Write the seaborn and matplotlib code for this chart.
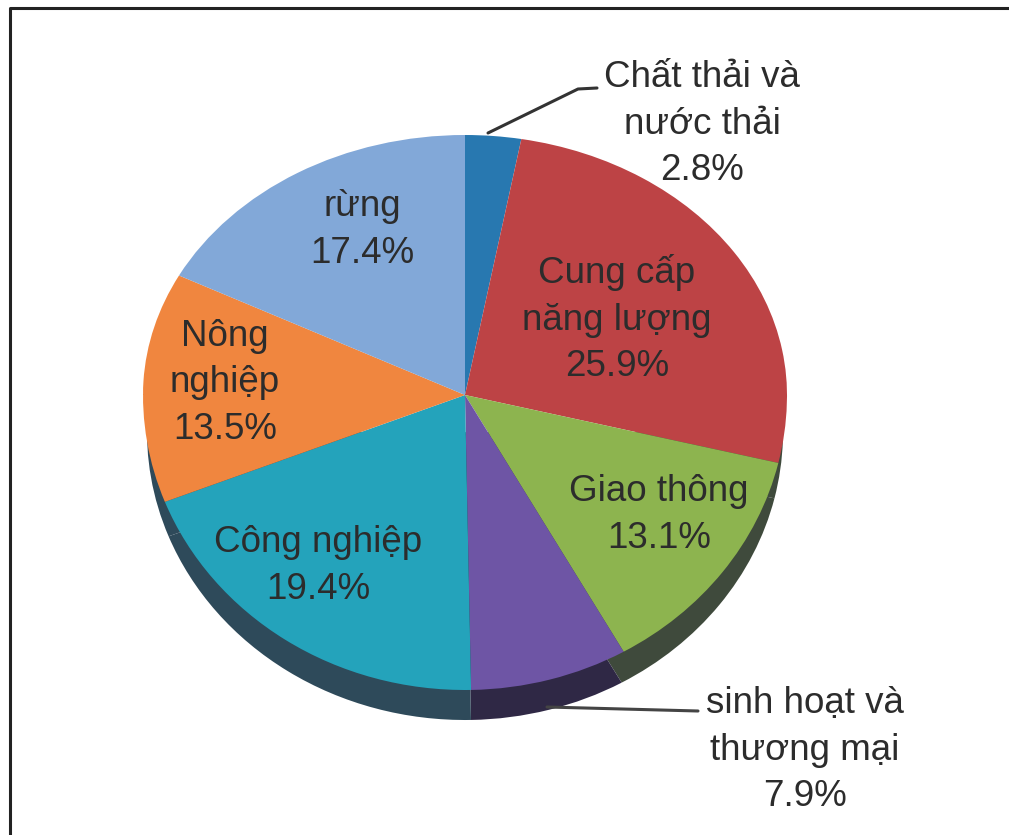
import matplotlib
matplotlib.use("Agg")
import matplotlib.pyplot as plt
from matplotlib.patches import Rectangle
from matplotlib.transforms import Affine2D
import seaborn as sns

# Emission shares by sector, clockwise from twelve o'clock
sectors = ["Chất thải và\nnước thải", "Cung cấp\nnăng lượng", "Giao thông",
           "sinh hoạt và\nthương mại", "Công nghiệp", "Nông\nnghiệp", "rừng"]
shares = [2.8, 25.9, 13.1, 7.9, 19.4, 13.5, 17.4]
top_colors = ["#2878b0", "#bd4345", "#8db44f", "#6e55a5", "#24a3bb", "#f0863f", "#82a8d8"]
side_colors = ["#1d4a66", "#3f4a3c", "#3f4a3c", "#2f2845", "#2e4a5a", "#2e4a5a", "#445570"]

sns.set_theme(style="white")
plt.rcParams["font.family"] = ["Liberation Sans", "DejaVu Sans"]

W, H = 1009, 835
CX, CY = 465, 395  # pixel position of the slices' common apex
RADIUS = 322
TEXT_COLOR = "#2c2c2c"

fig = plt.figure(figsize=(W / 100, H / 100), dpi=100, facecolor="white")
ax = fig.add_axes([0, 0, 1, 1])


def px(x, y):
    """Pixel position to data coordinates centred on the apex."""
    return x - CX, CY - y


def draw_pie(colors, rx, ry, dy, clip_low, clip_high, zorder):
    """One elliptical pie, clipped to a horizontal band."""
    wedges, _ = ax.pie(shares, colors=sns.color_palette(colors), startangle=90,
                       counterclock=False, radius=RADIUS, center=(0, 0), frame=True)
    squash = Affine2D().scale(rx / RADIUS, ry / RADIUS).translate(0, dy) + ax.transData
    band = Rectangle((-W, clip_low), 2 * W, clip_high - clip_low, transform=ax.transData)
    for w in wedges:
        w.set_transform(squash)
        w.set_clip_on(True)
        w.set_clip_path(band)
        w.set_linewidth(0)
        w.set_zorder(zorder)


# Dark side wall first, then the lower and upper halves of the top face
draw_pie(side_colors, 318, 288, -37, -H, -37, 1)
draw_pie(top_colors, RADIUS, 295, 0, -H, 0.5, 2)
draw_pie(top_colors, RADIUS, 260, 0, -0.5, H, 2)

ax.set_aspect("auto")
ax.set_xlim(-CX, W - CX)
ax.set_ylim(CY - H, CY)
ax.axis("off")

label_centers = [(702, 124), (617, 319), (659, 515), (805, 750), (318, 566), (225, 383), (362, 230)]
for name, value, (x, y) in zip(sectors, shares, label_centers):
    ax.text(*px(x, y), f"{name}\n{value}%", ha="center", va="center", fontsize=26.5,
            color=TEXT_COLOR, linespacing=1.42, zorder=5)

# Leader lines for the two labels set outside the pie
ax.plot(*zip(px(488, 133), px(578, 89), px(597, 88)), color="#333333", lw=2.2, zorder=4)
ax.plot(*zip(px(547, 707), px(698, 711)), color="#444444", lw=2.2, zorder=4)

# Frame along the left and top edges
ax.plot(*zip(px(10, H), px(10, 8), px(W, 8)), color="#222222", lw=2.2, zorder=6, clip_on=False)

fig.savefig("out.png", dpi=100, facecolor="white")
